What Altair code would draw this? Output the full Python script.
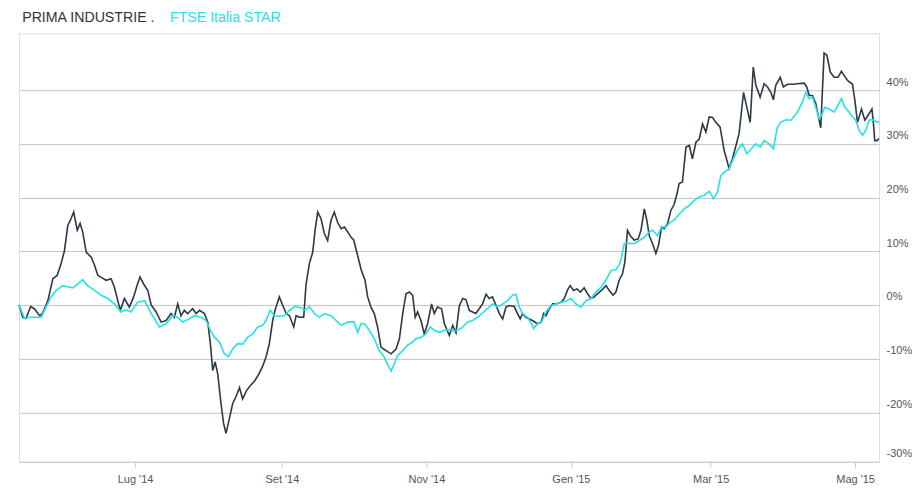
import altair as alt
import pandas as pd

# ---- data ----
start_date = "2014-05-13"
series_names = ["PRIMA INDUSTRIE .", "FTSE Italia STAR"]
series_colors = ["#2e3944", "#22e2e8"]

# days since start_date
prima_days = [0.0, 1.6, 3.0, 4.9, 6.5, 8.7, 9.9, 12.2, 14.3, 16.1, 17.8, 19.2, 20.6, 22.0, 23.1, 24.6,
              25.8, 26.9, 28.4, 30.5, 31.9, 33.3, 34.9, 36.8, 38.9, 40.3, 41.7, 42.8, 44.5, 46.6, 48.4,
              50.1, 51.1, 52.5, 54.4, 55.8, 57.9, 60.0, 62.1, 64.2, 65.6, 67.0, 68.4, 69.8, 71.2, 73.3,
              74.8, 76.2, 78.3, 79.7, 80.8, 81.8, 82.8, 83.9, 85.3, 86.4, 87.4, 88.8, 90.2, 91.7, 93.1,
              94.4, 96.0, 97.7, 99.4, 101.1, 102.8, 104.3, 105.7, 107.1, 108.1, 109.9, 111.3, 112.8,
              114.2, 116.0, 117.0, 118.4, 120.2, 121.2, 122.6, 124.0, 125.0, 126.1, 127.5, 128.9, 130.3,
              131.7, 133.1, 134.5, 136.0, 137.4, 138.8, 140.2, 141.3, 142.8, 144.5, 146.1, 147.2, 148.6,
              150.0, 151.4, 152.8, 153.9, 155.0, 157.1, 159.2, 160.6, 162.0, 163.4, 164.8, 166.2, 167.3,
              168.3, 169.7, 171.1, 172.5, 174.2, 175.3, 176.7, 178.4, 179.6, 181.7, 183.1, 184.5, 185.9,
              187.3, 188.7, 190.1, 191.5, 192.9, 194.3, 195.7, 197.2, 198.5, 199.9, 201.4, 202.8, 204.2,
              205.6, 207.0, 209.1, 210.5, 211.6, 212.6, 214.0, 215.4, 216.8, 218.9, 220.4, 221.5, 222.5,
              223.9, 225.3, 226.7, 228.8, 230.2, 231.6, 232.7, 234.1, 235.6, 237.0, 238.6, 240.0, 241.5,
              242.9, 244.3, 245.9, 247.8, 249.2, 250.8, 252.0, 253.4, 254.8, 255.8, 256.9, 258.1, 259.7,
              261.4, 262.6, 264.0, 265.1, 266.1, 267.5, 268.9, 270.0, 271.3, 272.4, 273.8, 275.2, 276.6,
              277.8, 278.7, 280.1, 281.6, 283.0, 284.3, 285.8, 287.2, 288.6, 290.0, 291.4, 292.8, 294.2,
              296.0, 297.7, 299.8, 301.2, 302.7, 304.0, 305.9, 307.3, 308.7, 310.0, 311.1, 312.9, 314.6,
              316.0, 317.4, 318.5, 319.5, 321.4, 322.7, 324.4, 327.0, 328.7, 331.5, 332.6, 333.6, 335.0,
              336.4, 337.4, 338.5, 339.9, 341.1, 342.5, 344.1, 345.8, 347.2, 348.4, 349.8, 351.9, 352.9,
              354.0, 355.7, 357.1, 358.9, 360.1, 360.7, 361.3, 362.2, 363.1]
prima_values = [0.0, -2.3, -2.5, -0.3, -0.7, -2.0, -1.6, 0.8, 4.9, 5.5, 7.7, 10.1, 14.8, 16.1, 17.3, 13.9,
                15.2, 13.6, 9.8, 8.9, 7.4, 5.5, 5.1, 4.6, 4.9, 3.3, 0.8, -1.0, 1.2, -0.4, 1.5,
                4.0, 5.2, 4.0, 2.7, 0.0, -1.3, -3.2, -2.9, -1.6, -2.3, 0.2, -2.0, -1.0, -1.6, -0.7,
                -1.6, -1.0, -1.6, -3.2, -7.2, -12.2, -10.6, -12.8, -18.4, -22.1, -23.9, -21.2, -18.4, -17.0, -15.4,
                -17.5, -16.0, -15.0, -14.2, -13.0, -11.5, -9.7, -7.2, -2.9, -1.0, 1.5, 0.0, -1.6,
                -2.0, -4.1, -2.0, -2.3, -2.3, 3.9, 7.7, 9.8, 13.9, 17.3, 16.1, 13.3, 12.0,
                15.7, 17.3, 15.4, 14.2, 14.5, 13.6, 12.6, 12.1, 9.5, 6.5, 4.6, 1.5, -0.4,
                -1.6, -4.1, -7.8, -8.2, -8.5, -9.1, -8.2, -6.3, -1.6, 2.1, 2.4, 1.8, -2.3,
                -1.3, -2.9, -5.4, -3.5, 0.2, -1.6, -0.4, -0.7, -3.5, -5.7, -3.8, -5.2, -0.2,
                1.2, 1.0, -1.0, -1.3, -1.6, -0.7, 0.2, 2.0, 1.2, 1.5, -0.1, -1.6, -2.6,
                -0.4, -0.1, -0.3, -1.6, -2.6, -1.6, -2.3, -2.6, -2.9, -3.5, -3.2, -1.6, -2.0,
                -0.7, 0.2, 0.2, 0.5, 1.2, 2.8, 3.6, 2.7, 3.0, 2.4, 3.2, 2.1, 1.2,
                1.5, 2.1, 2.7, 3.6, 2.7, 1.8, 2.4, 4.6, 5.8, 8.0, 13.9, 12.9, 12.1,
                12.3, 13.9, 17.9, 15.7, 12.9, 11.4, 9.6, 11.1, 14.5, 14.2, 15.1, 17.6, 18.7,
                20.7, 22.6, 22.9, 29.4, 29.7, 27.2, 30.3, 30.9, 33.7, 32.2, 35.0, 34.9, 34.0,
                33.1, 28.8, 25.4, 27.2, 29.7, 31.9, 39.6, 36.8, 34.0, 44.3, 40.9, 38.7, 41.2,
                40.6, 39.6, 38.2, 40.9, 42.4, 40.6, 41.1, 41.1, 41.2, 41.3, 40.6, 39.0, 39.0,
                37.5, 35.3, 33.0, 46.9, 46.5, 43.4, 42.4, 42.4, 43.5, 42.7, 41.8, 41.1, 38.1,
                34.0, 36.5, 34.4, 35.6, 36.5, 34.0, 30.6, 30.6, 31.0]

ftse_days = [0.0, 2.3, 5.1, 9.4, 11.5, 13.6, 15.7, 18.5, 20.6, 22.7, 24.8, 26.9, 29.0, 31.9, 34.7, 37.5,
             40.3, 43.1, 44.5, 45.9, 47.3, 50.1, 53.0, 55.1, 57.2, 59.3, 62.1, 64.9, 67.0, 69.1, 71.9,
             74.1, 76.9, 79.0, 80.8, 82.5, 84.6, 86.7, 88.4, 90.2, 92.3, 94.4, 96.6, 98.7, 100.8, 102.9,
             104.3, 106.1, 107.8, 109.9, 112.0, 114.2, 116.3, 119.1, 120.8, 122.6, 124.7, 126.8, 128.9,
             131.7, 133.9, 136.0, 138.8, 141.3, 143.0, 144.4, 145.8, 147.9, 150.0, 152.1, 154.2, 155.9,
             157.1, 158.5, 159.9, 162.0, 164.1, 166.2, 167.6, 169.7, 171.8, 173.7, 175.3, 177.5, 179.6,
             181.7, 183.8, 186.6, 189.4, 191.5, 193.6, 195.7, 197.8, 199.9, 202.1, 204.2, 206.3, 208.4,
             209.8, 211.2, 212.6, 214.7, 216.4, 217.2, 218.9, 220.6, 222.5, 224.6, 226.7, 228.8, 230.9,
             233.0, 235.1, 237.2, 239.4, 241.5, 243.6, 245.7, 247.8, 249.9, 252.0, 253.4, 254.4, 255.5,
             257.6, 259.7, 261.9, 264.0, 266.1, 267.5, 269.6, 271.3, 273.1, 274.9, 276.6, 278.7, 280.8,
             283.0, 285.1, 287.2, 289.3, 291.4, 293.2, 294.9, 296.3, 297.7, 299.8, 301.6, 303.3, 305.4,
             307.3, 309.2, 311.1, 312.9, 314.6, 316.7, 318.5, 320.2, 321.6, 323.8, 325.9, 328.7, 330.8,
             332.2, 333.6, 335.0, 336.4, 337.8, 338.8, 340.2, 342.0, 344.1, 345.8, 347.2, 348.7, 350.5,
             351.9, 353.3, 354.7, 356.1, 357.5, 358.9, 360.3, 361.7, 363.1]
ftse_values = [0.0, -2.5, -2.3, -2.3, -0.3, 1.5, 2.7, 3.6, 3.4, 3.2, 3.9, 4.7, 3.6, 2.7, 1.8, 1.2,
               0.2, -1.3, -1.0, -1.0, -1.3, 0.5, 0.8, -1.0, -2.6, -4.1, -3.5, -2.0, -2.3, -3.2, -2.6,
               -2.0, -2.3, -2.9, -4.7, -6.0, -6.9, -9.1, -9.6, -8.2, -7.2, -7.3, -6.0, -5.4, -4.1, -3.8,
               -2.9, -1.0, -2.0, -2.1, -2.0, -1.0, -0.3, -0.5, -1.0, -0.3, -1.6, -2.3, -1.6,
               -2.0, -2.9, -3.8, -3.2, -3.1, -5.1, -3.5, -3.5, -4.7, -6.3, -8.5, -9.7, -11.3,
               -12.3, -10.9, -9.4, -8.5, -7.5, -6.9, -6.3, -6.0, -5.4, -4.1, -4.7, -5.1, -4.7,
               -4.6, -4.9, -4.4, -3.2, -2.9, -2.3, -1.5, -0.7, 0.2, -0.4, 0.2, 0.8, 1.8,
               2.0, -0.4, -1.6, -2.3, -3.5, -4.4, -3.5, -3.2, -1.3, -0.1, 0.2, 0.5, 0.7,
               1.2, 0.2, -0.4, 0.8, 1.2, 2.4, 3.3, 4.6, 6.4, 6.6, 7.4, 8.9, 11.4,
               11.5, 11.4, 12.0, 12.6, 13.6, 13.9, 12.9, 14.5, 14.5, 15.4, 15.8, 16.9, 17.9,
               18.5, 19.5, 20.1, 20.4, 21.2, 19.8, 21.0, 24.1, 24.7, 25.4, 27.2, 28.8, 30.0,
               28.2, 29.1, 30.0, 29.4, 30.6, 30.0, 29.1, 33.1, 34.0, 34.5, 34.4, 35.9, 37.8,
               39.6, 38.4, 38.7, 36.8, 34.7, 35.3, 36.8, 36.5, 35.9, 37.2, 38.4, 36.8, 35.9,
               35.0, 34.4, 32.5, 31.6, 32.5, 34.4, 34.5, 34.2, 34.0]

tick_dates = ["2014-07-01", "2014-09-01", "2014-11-01", "2015-01-01", "2015-03-01", "2015-05-01"]
tick_labels = ["Lug '14", "Set '14", "Nov '14", "Gen '15", "Mar '15", "Mag '15"]
y_ticks = [-29.2, -20, -10, 0, 10, 20, 30, 40]

# ---- table ----
start = pd.Timestamp(start_date)
df = pd.concat([
    pd.DataFrame({"series": series_names[0],
                  "date": start + pd.to_timedelta(prima_days, unit="D"),
                  "value": prima_values}),
    pd.DataFrame({"series": series_names[1],
                  "date": start + pd.to_timedelta(ftse_days, unit="D"),
                  "value": ftse_values}),
], ignore_index=True)
df["order"] = df["series"].map({n: i for i, n in enumerate(series_names)})

tick_vals = [alt.DateTime(year=pd.Timestamp(d).year, month=pd.Timestamp(d).month,
                          date=pd.Timestamp(d).day) for d in tick_dates]
label_map = "{" + ",".join(f"'{d}': \"{l}\"" for d, l in zip(tick_dates, tick_labels)) + "}"

FONT = "Liberation Sans"

legend_color_expr = (f"datum.value == '{series_names[1]}' ? '{series_colors[1]}' : '#333333'")

chart = alt.Chart(df).mark_line(strokeWidth=1.6, interpolate="linear").encode(
    x=alt.X("date:T",
            scale=alt.Scale(nice=False),
            axis=alt.Axis(title=None, values=tick_vals,
                          labelExpr=f"{label_map}[timeFormat(datum.value, '%Y-%m-%d')]",
                          grid=False, domain=False, ticks=True, tickSize=6,
                          tickColor="#c0d0e0", labelPadding=6, labelFlush=False,
                          labelFont=FONT, labelFontSize=11, labelColor="#555555")),
    y=alt.Y("value:Q",
            scale=alt.Scale(domain=[-29.2, 50.6], nice=False, zero=False),
            axis=alt.Axis(title=None, orient="right", values=y_ticks,
                          labelExpr="datum.value < -25 ? '-30%' : datum.value + '%'",
                          grid=True, gridColor="#c4c4c4", gridWidth=1,
                          domain=False, ticks=False, labelPadding=7, labelOffset=-8,
                          labelAlign="left", labelFont=FONT, labelFontSize=11,
                          labelColor="#555555")),
    color=alt.Color("series:N",
                    scale=alt.Scale(domain=series_names, range=series_colors),
                    legend=alt.Legend(title=None, orient="none", legendX=-11, legendY=-23,
                                      direction="horizontal", symbolSize=0,
                                      symbolStrokeWidth=0, symbolOpacity=0,
                                      labelOffset=0, columnPadding=-2,
                                      labelFont=FONT, labelFontSize=14.2,
                                      labelColor={"expr": legend_color_expr})),
    order=alt.Order("order:Q"),
).properties(
    width=861, height=429,
    padding={"left": 11, "top": 25, "right": 33, "bottom": 28},
    autosize=alt.AutoSizeParams(type="none"),
).configure_view(
    stroke="#c4c4c4", strokeWidth=1
).configure(background="white")

chart.save("out.html", embed_options={"renderer": "svg", "actions": False})
